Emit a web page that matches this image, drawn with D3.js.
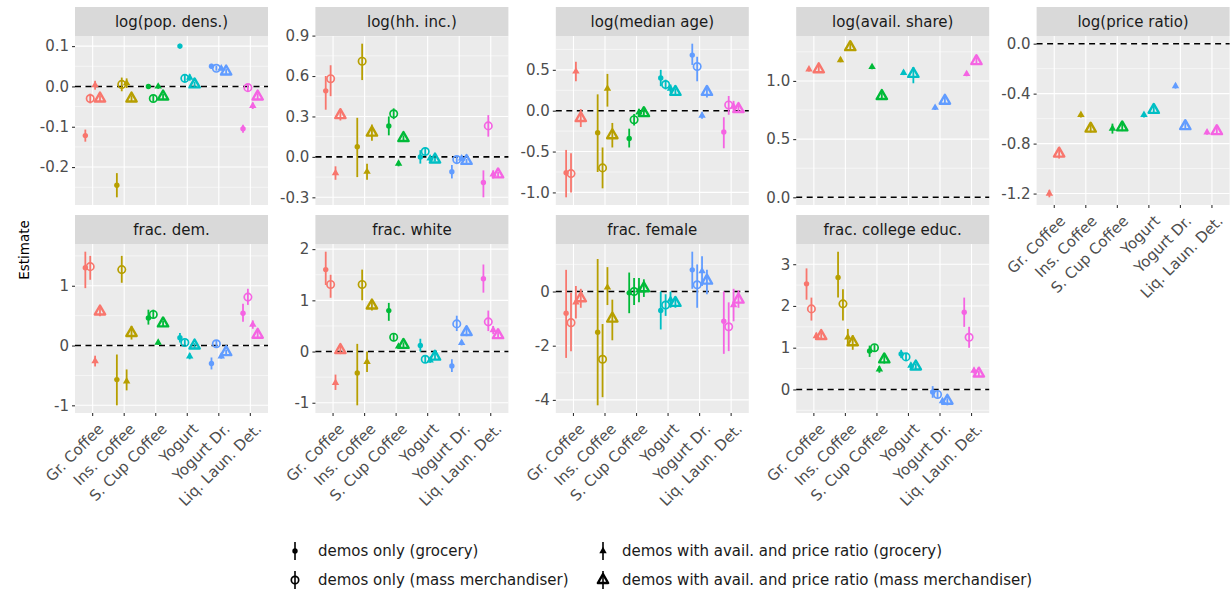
<!DOCTYPE html>
<html>
<head>
<meta charset="utf-8">
<script src="https://cdn.jsdelivr.net/npm/d3@7"></script>
<style>
  body { margin: 0; background: #fff; }
  text { font-family: "DejaVu Sans", sans-serif; }
</style>
</head>
<body>
<svg id="chart" width="1231" height="596"></svg>
<script>
// products on the x axis and their hue colours
const categories = ["Gr. Coffee", "Ins. Coffee", "S. Cup Coffee", "Yogurt", "Yogurt Dr.", "Liq. Laun. Det."];
const colors = ["#F8766D", "#B79F00", "#00BA38", "#00BFC4", "#619CFF", "#F564E3"];
const seriesNames = [
    "demos only (grocery)",
    "demos only (mass merchandiser)",
    "demos with avail. and price ratio (grocery)",
    "demos with avail. and price ratio (mass merchandiser)"
];
const titles = ["log(pop. dens.)", "log(hh. inc.)", "log(median age)", "log(avail. share)", "log(price ratio)",
    "frac. dem.", "frac. white", "frac. female", "frac. college educ."];

// one row per product, four series each: [estimate, low, high], null = not in that model
const popDens = [
    [[-0.122, -0.137, -0.107], [-0.03, -0.042, -0.018], [0.003, -0.008, 0.014], [-0.03, -0.038, -0.022]],
    [[-0.245, -0.275, -0.215], [0.005, -0.012, 0.022], [0.008, -0.004, 0.02], [-0.03, -0.038, -0.022]],
    [[0.0, -0.006, 0.006], [-0.03, -0.038, -0.022], [0.0, -0.006, 0.006], [-0.025, -0.032, -0.018]],
    [[0.1, 0.094, 0.106], [0.02, 0.01, 0.03], [0.022, 0.014, 0.03], [0.005, -0.002, 0.012]],
    [[0.05, 0.044, 0.056], [0.045, 0.039, 0.051], [0.045, 0.039, 0.051], [0.037, 0.031, 0.043]],
    [[-0.105, -0.115, -0.095], [-0.003, -0.012, 0.006], [-0.048, -0.056, -0.04], [-0.025, -0.033, -0.017]]
];
const hhInc = [
    [[0.49, 0.35, 0.6], [0.58, 0.45, 0.68], [-0.12, -0.17, -0.07], [0.31, 0.27, 0.35]],
    [[0.075, -0.15, 0.29], [0.71, 0.57, 0.84], [-0.11, -0.17, -0.05], [0.18, 0.12, 0.24]],
    [[0.23, 0.16, 0.3], [0.32, 0.28, 0.36], [-0.05, -0.07, -0.03], [0.14, 0.12, 0.16]],
    [[0.0, -0.05, 0.05], [0.04, 0.01, 0.07], [-0.01, -0.03, 0.01], [-0.02, -0.035, -0.005]],
    [[-0.11, -0.16, -0.06], [-0.02, -0.05, 0.01], [-0.01, -0.03, 0.01], [-0.03, -0.045, -0.015]],
    [[-0.19, -0.3, -0.1], [0.23, 0.15, 0.31], [-0.13, -0.16, -0.1], [-0.13, -0.15, -0.11]]
];
const medAge = [
    [[-0.76, -1.06, -0.48], [-0.77, -1.0, -0.52], [0.48, 0.36, 0.6], [-0.09, -0.2, 0.02]],
    [[-0.27, -0.75, 0.2], [-0.7, -0.95, -0.45], [0.27, 0.05, 0.45], [-0.3, -0.45, -0.15]],
    [[-0.34, -0.45, -0.22], [-0.11, -0.18, -0.04], [-0.02, -0.06, 0.02], [-0.03, -0.07, 0.01]],
    [[0.4, 0.3, 0.5], [0.32, 0.26, 0.38], [0.27, 0.22, 0.32], [0.23, 0.19, 0.27]],
    [[0.68, 0.56, 0.82], [0.54, 0.36, 0.66], [-0.06, -0.1, -0.02], [0.23, 0.16, 0.3]],
    [[-0.26, -0.46, -0.08], [0.07, -0.05, 0.18], [0.05, -0.02, 0.12], [0.02, -0.02, 0.06]]
];
const availShare = [
    [null, null, [1.1, 1.08, 1.12], [1.1, 1.07, 1.13]],
    [null, null, [1.18, 1.16, 1.2], [1.29, 1.26, 1.32]],
    [null, null, [1.12, 1.1, 1.14], [0.87, 0.84, 0.9]],
    [null, null, [1.07, 1.05, 1.09], [1.06, 0.98, 1.12]],
    [null, null, [0.77, 0.75, 0.79], [0.83, 0.8, 0.86]],
    [null, null, [1.06, 1.04, 1.08], [1.17, 1.14, 1.2]]
];
const priceRatio = [
    [null, null, [-1.2, -1.23, -1.17], [-0.88, -0.92, -0.84]],
    [null, null, [-0.57, -0.59, -0.55], [-0.68, -0.71, -0.65]],
    [null, null, [-0.68, -0.72, -0.64], [-0.67, -0.7, -0.64]],
    [null, null, [-0.57, -0.59, -0.55], [-0.53, -0.56, -0.5]],
    [null, null, [-0.34, -0.36, -0.32], [-0.66, -0.69, -0.63]],
    [null, null, [-0.71, -0.73, -0.69], [-0.7, -0.73, -0.67]]
];
const fracDem = [
    [[1.3, 0.96, 1.57], [1.32, 1.1, 1.5], [-0.26, -0.35, -0.17], [0.57, 0.49, 0.65]],
    [[-0.57, -1.0, -0.15], [1.27, 1.05, 1.5], [-0.6, -0.75, -0.4], [0.21, 0.1, 0.33]],
    [[0.46, 0.35, 0.6], [0.52, 0.45, 0.6], [0.05, 0.01, 0.09], [0.37, 0.32, 0.42]],
    [[0.13, 0.05, 0.21], [0.05, 0.0, 0.1], [-0.18, -0.23, -0.13], [0.0, -0.04, 0.04]],
    [[-0.3, -0.4, -0.2], [0.03, -0.03, 0.09], [-0.18, -0.22, -0.14], [-0.11, -0.15, -0.07]],
    [[0.54, 0.4, 0.7], [0.81, 0.68, 0.95], [0.35, 0.28, 0.42], [0.18, 0.13, 0.23]]
];
const fracWhite = [
    [[1.6, 1.3, 1.95], [1.31, 1.05, 1.5], [-0.61, -0.75, -0.45], [0.03, -0.05, 0.11]],
    [[-0.42, -1.05, 0.15], [1.31, 1.0, 1.6], [-0.2, -0.4, 0.0], [0.9, 0.8, 1.0]],
    [[0.8, 0.6, 0.95], [0.28, 0.2, 0.36], [0.1, 0.05, 0.15], [0.13, 0.08, 0.18]],
    [[0.12, 0.0, 0.25], [-0.15, -0.22, -0.08], [-0.17, -0.22, -0.12], [-0.1, -0.16, -0.04]],
    [[-0.28, -0.4, -0.15], [0.54, 0.4, 0.7], [0.17, 0.12, 0.22], [0.38, 0.3, 0.46]],
    [[1.42, 1.15, 1.7], [0.58, 0.4, 0.8], [0.42, 0.34, 0.5], [0.32, 0.26, 0.38]]
];
const fracFemale = [
    [[-0.8, -2.45, 0.8], [-1.15, -2.2, -0.05], [-0.4, -1.0, 0.2], [-0.25, -0.6, 0.1]],
    [[-1.5, -4.2, 1.2], [-2.5, -3.9, -1.2], [0.15, -0.5, 0.9], [-1.0, -1.8, -0.3]],
    [[-0.05, -0.8, 0.7], [0.0, -0.5, 0.5], [0.05, -0.4, 0.5], [0.12, -0.2, 0.45]],
    [[-0.7, -1.4, 0.0], [-0.5, -0.9, -0.1], [-0.3, -0.6, 0.0], [-0.42, -0.6, -0.24]],
    [[0.8, 0.1, 1.47], [0.25, -0.6, 1.0], [0.75, 0.2, 1.3], [0.4, -0.1, 0.8]],
    [[-1.1, -2.3, 0.0], [-1.3, -2.2, -0.4], [-0.5, -1.1, 0.1], [-0.3, -0.6, 0.05]]
];
const fracCollege = [
    [[2.53, 2.15, 2.9], [1.93, 1.65, 2.2], [1.28, 1.2, 1.36], [1.28, 1.2, 1.36]],
    [[2.68, 2.2, 3.3], [2.05, 1.65, 2.4], [1.25, 1.05, 1.45], [1.13, 0.95, 1.3]],
    [[0.92, 0.78, 1.05], [1.0, 0.92, 1.08], [0.48, 0.4, 0.56], [0.72, 0.62, 0.82]],
    [[0.85, 0.75, 0.95], [0.78, 0.7, 0.86], [0.57, 0.5, 0.64], [0.55, 0.48, 0.62]],
    [[-0.06, -0.2, 0.08], [-0.12, -0.2, -0.04], [-0.28, -0.36, -0.22], [-0.27, -0.38, -0.21]],
    [[1.85, 1.5, 2.2], [1.25, 1.0, 1.5], [0.45, 0.38, 0.52], [0.38, 0.32, 0.44]]
];

// y tick labels of every facet
const yTicks = [
    [-0.2, -0.1, 0.0, 0.1],
    [-0.3, 0.0, 0.3, 0.6, 0.9],
    [-1.0, -0.5, 0.0, 0.5],
    [0.0, 0.5, 1.0],
    [-1.2, -0.8, -0.4, 0.0],
    [-1, 0, 1],
    [-1, 0, 1, 2],
    [-4, -2, 0],
    [0, 1, 2, 3]
];
const tickDigits = [1, 1, 1, 1, 1, 0, 0, 0, 0];
const panelData = [popDens, hhInc, medAge, availShare, priceRatio, fracDem, fracWhite, fracFemale, fracCollege];

// layout
const left0 = 75, colStep = 240.4, panelW = 193;
const rowTop = [7, 215], stripH = 29, panelH = 169;
const dodgeW = 0.62;
const fontSize = 15;

const svg = d3.select("#chart");

// point glyph for each series
function drawGlyph(g, s, x, y, col) {
    if (s === 0) {
        g.append("circle").attr("cx", x).attr("cy", y).attr("r", 2.7).attr("fill", col);
    } else if (s === 1) {
        g.append("circle").attr("cx", x).attr("cy", y).attr("r", 3.7)
            .attr("fill", "none").attr("stroke", col).attr("stroke-width", 1.7);
    } else if (s === 2) {
        g.append("path").attr("d", d3.symbol(d3.symbolTriangle, 24)())
            .attr("transform", `translate(${x},${y})`).attr("fill", col);
    } else {
        g.append("path").attr("d", d3.symbol(d3.symbolTriangle, 46)())
            .attr("transform", `translate(${x},${y})`)
            .attr("fill", "none").attr("stroke", col).attr("stroke-width", 2.4)
            .attr("stroke-linejoin", "round");
    }
}

panelData.forEach((data, p) => {
    let row = p < 5 ? 0 : 1
    let col = p < 5 ? p : p - 5
    let px = left0 + col * colStep
    let stripY = rowTop[row]
    let py = stripY + stripH
    let showX = p >= 4

    // y scale from data incl. the zero line, ggplot-like 5% expansion
    let vals = [0]
    data.forEach(r => r.forEach(d => { if (d) vals.push(d[1], d[2]) }))
    let [lo, hi] = d3.extent(vals)
    let pad = (hi - lo) * 0.05
    let y = d3.scaleLinear().domain([lo - pad, hi + pad]).range([py + panelH, py])
    let x = d3.scalePoint().domain(categories).range([px, px + panelW]).padding(0.56)

    let g = svg.append("g")

    // panel background
    g.append("rect").attr("x", px).attr("y", py).attr("width", panelW).attr("height", panelH).attr("fill", "#EBEBEB")

    // minor grid
    let tk = yTicks[p]
    let step = tk[1] - tk[0]
    let minors = []
    for (let i = -1; i < tk.length; i++) {
        let v = tk[0] + (i + 0.5) * step
        if (v > y.domain()[0] && v < y.domain()[1]) minors.push(v)
    }
    g.selectAll(".minor").data(minors).join("line")
        .attr("x1", px).attr("x2", px + panelW)
        .attr("y1", d => y(d)).attr("y2", d => y(d))
        .attr("stroke", "#fff").attr("stroke-width", 0.55)
    // major grid
    g.selectAll(".major").data(tk).join("line")
        .attr("x1", px).attr("x2", px + panelW)
        .attr("y1", d => y(d)).attr("y2", d => y(d))
        .attr("stroke", "#fff").attr("stroke-width", 1.1)
    g.selectAll(".vmajor").data(categories).join("line")
        .attr("x1", d => x(d)).attr("x2", d => x(d))
        .attr("y1", py).attr("y2", py + panelH)
        .attr("stroke", "#fff").attr("stroke-width", 1.1)

    // strip
    g.append("rect").attr("x", px).attr("y", stripY).attr("width", panelW).attr("height", stripH).attr("fill", "#D9D9D9")
    g.append("text").attr("x", px + panelW / 2).attr("y", stripY + stripH / 2)
        .attr("dy", "0.35em").attr("text-anchor", "middle")
        .attr("font-size", fontSize).attr("fill", "#1A1A1A").text(titles[p])

    // y axis
    let yAxis = d3.axisLeft(y).tickValues(tk).tickSize(3).tickPadding(3)
        .tickFormat(d => d.toFixed(tickDigits[p]))
    let ya = g.append("g").attr("transform", `translate(${px},0)`).call(yAxis)
    ya.select(".domain").remove()
    ya.selectAll("line").attr("stroke", "#333").attr("stroke-width", 1.1)
    ya.selectAll("text").attr("font-size", fontSize).attr("fill", "#4D4D4D").attr("font-family", "DejaVu Sans")

    // x axis on bottom facets
    if (showX) {
        let xa = g.append("g").attr("transform", `translate(0,${py + panelH})`)
        xa.selectAll("line").data(categories).join("line")
            .attr("x1", d => x(d)).attr("x2", d => x(d)).attr("y1", 0).attr("y2", 3)
            .attr("stroke", "#333").attr("stroke-width", 1.1)
        xa.selectAll("text").data(categories).join("text")
            .attr("transform", d => `translate(${x(d) + 4},9) rotate(-45)`)
            .attr("text-anchor", "end").attr("dy", "0.75em")
            .attr("font-size", fontSize).attr("fill", "#4D4D4D").text(d => d)
    }

    // dashed zero line
    g.append("line").attr("x1", px).attr("x2", px + panelW)
        .attr("y1", y(0)).attr("y2", y(0))
        .attr("stroke", "#000").attr("stroke-width", 1.6).attr("stroke-dasharray", "6,4.5")

    // estimates with intervals, dodged within each product
    data.forEach((r, c) => {
        let present = r.map((d, s) => d ? s : -1).filter(s => s >= 0)
        let k = present.length
        present.forEach((s, j) => {
            let d = r[s]
            let cx = x(categories[c]) + (j - (k - 1) / 2) * (dodgeW / k) * x.step()
            g.append("line").attr("x1", cx).attr("x2", cx)
                .attr("y1", y(d[1])).attr("y2", y(d[2]))
                .attr("stroke", colors[c]).attr("stroke-width", 1.8)
            drawGlyph(g, s, cx, y(d[0]), colors[c])
        })
    })
})

// y axis title
svg.append("text").attr("transform", "translate(29,250) rotate(-90)")
    .attr("text-anchor", "middle").attr("font-size", 13.5).attr("fill", "#000").text("Estimate")

// legend
const legendX = [295, 603], legendY = [551, 580]
seriesNames.forEach((name, s) => {
    let lx = legendX[Math.floor(s / 2)]
    let ly = legendY[s % 2]
    let lg = svg.append("g")
    lg.append("line").attr("x1", lx).attr("x2", lx).attr("y1", ly - 9).attr("y2", ly + 9)
        .attr("stroke", "#000").attr("stroke-width", 1.6)
    drawGlyph(lg, s, lx, ly, "#000")
    lg.append("text").attr("x", lx + (s < 2 ? 23 : 19)).attr("y", ly).attr("dy", "0.35em")
        .attr("font-size", fontSize).attr("fill", "#1A1A1A").text(name)
})
</script>
</body>
</html>
